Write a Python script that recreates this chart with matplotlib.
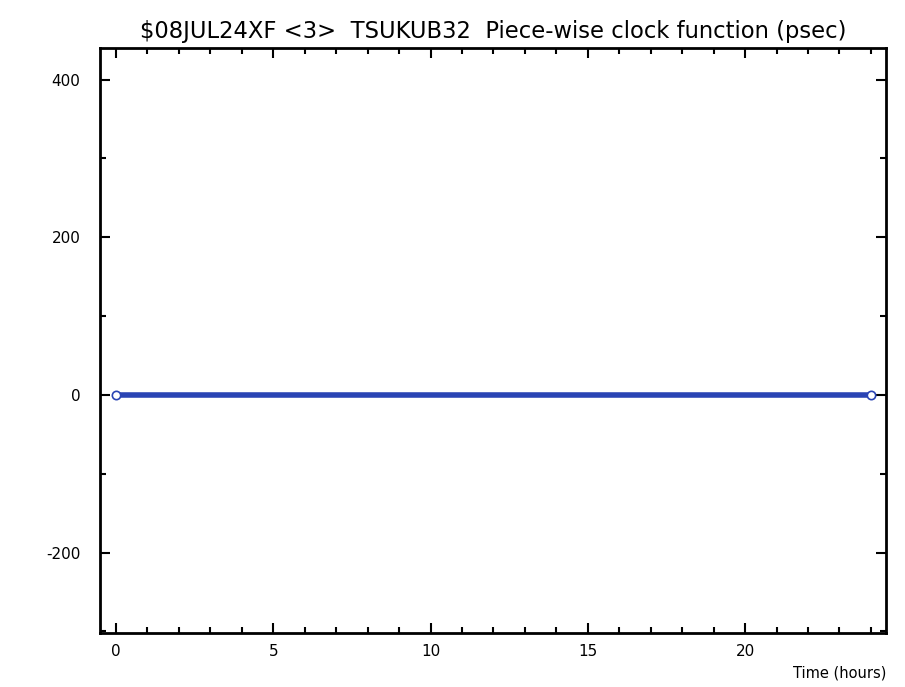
import matplotlib
matplotlib.use("Agg")
import matplotlib.pyplot as plt
from matplotlib.ticker import MultipleLocator

plt.rcParams["axes.unicode_minus"] = False

# clock function nodes
time_hours = [0.0, 24.0]
clock_psec = [0.0, 0.0]

title = "$08JUL24XF <3>  TSUKUB32  Piece-wise clock function (psec)"
line_color = "#2a44b4"

fig = plt.figure(figsize=(9.05, 6.87), dpi=100)
ax = fig.add_axes([0.1105, 0.0786, 0.8685, 0.8514])

ax.plot(time_hours, clock_psec, color=line_color, lw=4, solid_capstyle="butt", zorder=2)
ax.plot(time_hours, clock_psec, "o", mfc="white", mec=line_color, ms=6, mew=1.2, zorder=3)

ax.set_xlim(-0.51, 24.48)
ax.set_ylim(-302, 440)

ax.xaxis.set_major_locator(MultipleLocator(5))
ax.xaxis.set_minor_locator(MultipleLocator(1))
ax.yaxis.set_major_locator(MultipleLocator(200))
ax.yaxis.set_minor_locator(MultipleLocator(100))

ax.tick_params(which="both", direction="in", top=True, right=True, width=1.5)
ax.tick_params(which="major", length=7, labelsize=11)
ax.tick_params(which="minor", length=4)
ax.tick_params(axis="y", which="major", pad=14)
ax.tick_params(axis="x", which="major", pad=8)
for sp in ax.spines.values():
    sp.set_linewidth(2)

ax.set_title(title, fontsize=16.3, pad=7)
fig.text(0.979, 0.009, "Time (hours)", ha="right", va="bottom", fontsize=10.5)

fig.savefig("out.png", dpi=100)
